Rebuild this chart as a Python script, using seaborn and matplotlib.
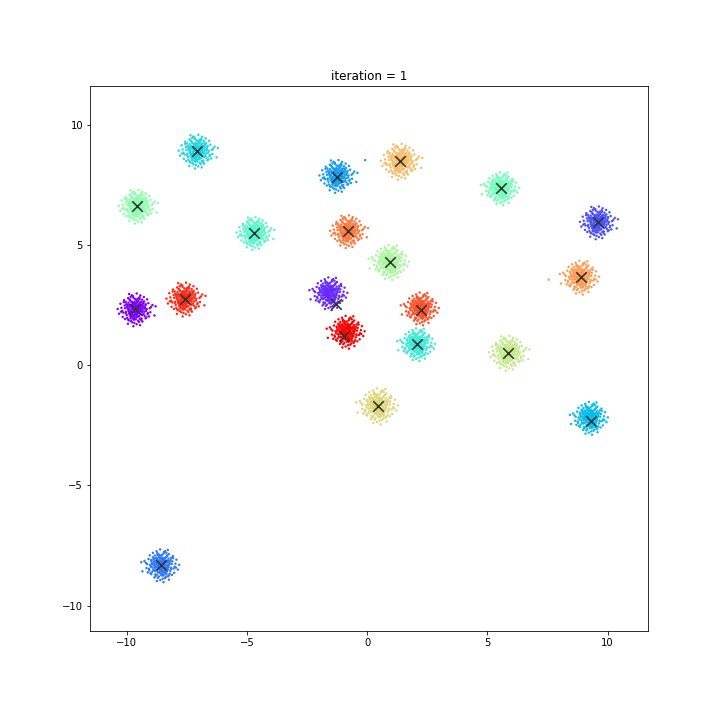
import matplotlib
matplotlib.use("Agg")
import matplotlib.pyplot as plt
import seaborn as sns
import numpy as np
import pandas as pd

# blob centres, list index = cluster label
blob_x = [-9.63, -1.56, 9.59, -8.55, -1.24, 9.27, -7.07, 2.09, -4.69, 5.57,
          -9.56, 0.95, 5.86, 0.47, 1.38, 8.88, -0.80, 2.24, -7.58, -0.84]
blob_y = [2.31, 2.98, 5.93, -8.33, 7.86, -2.20, 8.89, 0.86, 5.49, 7.35,
          6.60, 4.28, 0.51, -1.70, 8.47, 3.65, 5.56, 2.35, 2.74, 1.38]
spread = [0.32, 0.32, 0.32, 0.32, 0.32, 0.32, 0.33, 0.32, 0.32, 0.32,
          0.33, 0.34, 0.34, 0.35, 0.35, 0.33, 0.32, 0.32, 0.33, 0.32]
flip = [1, -1, 1, -1, 1, -1, 1, -1, 1, -1, 1, -1, 1, -1, 1, -1, 1, -1, 1, -1]

# centroid markers (iteration 1)
cent_x = [-9.63, -1.29, 9.59, -8.55, -1.24, 9.31, -7.07, 2.09, -4.69, 5.57,
          -9.56, 0.95, 5.86, 0.47, 1.38, 8.88, -0.80, 2.24, -7.58, -0.94]
cent_y = [2.31, 2.54, 5.93, -8.33, 7.82, -2.34, 8.89, 0.86, 5.49, 7.35,
          6.60, 4.28, 0.51, -1.70, 8.47, 3.65, 5.56, 2.29, 2.74, 1.21]

# shape of one blob (offsets in units of spread)
offsets = [
    (0.12, -0.45), (-1.03, 0.27), (0.58, 0.91), (-0.34, -1.21), (1.47, 0.05), (-0.76, 0.63), (0.29, -0.18), (-0.05, 1.36), (0.84, -0.72), (-1.58, -0.41),
    (0.41, 0.33), (-0.22, -0.67), (1.12, 1.04), (-0.91, -0.09), (0.07, 0.52), (-0.48, 1.85), (1.93, -0.36), (-0.15, -1.74), (0.66, 0.14), (-1.27, 0.98),
    (0.35, -0.94), (-0.61, -0.28), (0.98, 0.47), (-0.03, -0.11), (-1.82, 0.22), (0.53, 1.58), (-0.39, 0.76), (1.31, -1.15), (-0.87, -1.42), (0.19, 0.03),
    (-0.24, 0.41), (0.72, -0.26), (-1.14, -0.73), (0.46, -1.62), (-0.68, 1.19), (2.21, 0.58), (-0.11, -0.39), (0.93, -0.04), (-0.42, 0.11), (0.16, 2.07),
    (-2.13, -0.55), (0.61, 0.69), (-0.29, -0.93), (1.06, -0.57), (-0.74, 0.36), (0.24, -0.31), (-0.52, -0.06), (1.68, 0.82), (-0.96, 1.47), (0.03, -1.28),
    (0.87, 1.26), (-0.33, 0.19), (0.49, -0.48), (-1.41, 0.51), (0.11, 0.87), (-0.58, -1.51), (1.24, 0.29), (-0.19, -0.24), (0.37, 1.12), (-1.07, -1.09),
    (0.76, -1.39), (-0.45, 0.57), (2.47, -0.78), (-0.08, 0.64), (0.55, 0.08), (-1.66, -0.97), (0.22, -0.79), (-0.81, 0.07), (1.38, -0.19), (-0.27, -2.18),
    (0.09, 0.28), (-0.63, 1.63), (0.82, 0.61), (-1.23, -0.32), (0.44, -0.12), (-0.02, -0.58), (1.77, -0.91), (-0.92, 0.88), (0.31, 1.41), (-0.47, -0.44),
    (0.68, -0.63), (-1.95, 0.74), (0.14, -1.03), (-0.36, 0.23), (1.01, 0.77), (-0.71, -0.81), (0.27, 0.46), (-0.13, 1.02), (0.59, -2.04), (-1.33, 0.16),
    (0.95, 0.19), (-0.54, -0.17), (0.06, -0.34), (1.52, 1.31), (-0.85, -0.52), (0.39, 0.72), (-0.20, -1.33), (0.71, 0.37), (-1.48, 1.21), (0.18, -0.66),
    (-0.40, 0.94), (1.19, -0.84), (-0.66, 0.44), (0.04, 0.15), (-0.98, -1.86), (0.50, -0.23), (2.03, 0.33), (-0.31, 1.72), (0.79, -1.17), (-1.71, -0.18),
    (0.26, 0.58), (-0.57, -0.99), (0.63, 1.83), (-0.09, -0.82), (1.29, 0.54), (-1.19, 0.69), (0.43, -0.41), (-0.26, 0.02), (0.91, -1.57), (-0.79, 1.31),
    (0.01, -0.15), (1.61, -0.47), (-0.50, 0.30), (0.34, -1.45), (-1.36, -1.24), (0.73, 0.96), (-0.16, 0.48), (0.20, -0.55), (-2.31, 0.07), (1.09, 1.62),
    (-0.37, -0.35), (0.57, 0.24), (-0.83, 2.01), (1.43, -1.03), (-0.06, 0.81), (0.32, -0.02), (-1.09, 0.41), (0.85, -0.31), (-0.44, -1.66), (0.13, 1.24),
    (-0.69, -0.60), (1.86, 0.16), (-0.23, 0.67), (0.47, -0.87), (-1.52, 0.94), (0.65, -0.10), (-0.12, -1.08), (0.99, 0.89), (-0.88, -0.23), (0.28, 0.35),
    (-0.35, -0.71), (1.21, 0.11), (-0.60, 1.04), (0.08, -0.43), (-1.26, -0.47), (0.54, 1.37), (-0.17, 0.26), (2.62, 0.41), (-0.94, -1.31), (0.38, 0.09),
    (-0.46, 0.59), (0.89, -0.69), (-1.01, 0.12), (0.15, -1.91), (-0.28, 1.53), (1.34, 0.68), (-0.72, -0.37), (0.45, 0.51), (-0.07, -0.27), (0.77, -0.15),
    (-1.88, -0.29), (0.21, 0.99), (-0.55, -0.85), (1.15, -0.29), (-0.32, 0.84), (0.60, -1.22), (-0.98, 0.57), (0.02, 0.38), (1.57, -0.64), (-0.64, -1.16),
]

# a few stray points visible in the picture
stray_x = [7.55, -0.08]
stray_y = [3.55, 8.52]
stray_label = [15, 4]

rows = []
for k in range(len(blob_x)):
    for dx, dy in offsets:
        rows.append((blob_x[k] + flip[k] * dx * spread[k], blob_y[k] + dy * spread[k], k))
for x, y, k in zip(stray_x, stray_y, stray_label):
    rows.append((x, y, k))
points = pd.DataFrame(rows, columns=["x", "y", "label"])
centroids = pd.DataFrame({"x": cent_x, "y": cent_y})

fig = plt.figure(figsize=(10, 10), dpi=72)
ax = fig.add_axes([0.125, 0.1236, 0.775, 0.7569])

sns.scatterplot(data=points, x="x", y="y", hue="label", palette="rainbow",
                hue_norm=(0, 19), s=6, linewidth=0, legend=False, ax=ax)
sns.scatterplot(data=centroids, x="x", y="y", marker="x", color="#333333",
                s=110, linewidth=1.6, ax=ax)

ax.set_xlim(-11.52, 11.68)
ax.set_ylim(-11.06, 11.60)
ax.set_xticks([-10, -5, 0, 5, 10])
ax.set_yticks([-10, -5, 0, 5, 10])
ax.set(xlabel="", ylabel="")
ax.set_title("iteration = 1", fontsize=12)

plt.savefig("out.png", dpi=72)
plt.close()
